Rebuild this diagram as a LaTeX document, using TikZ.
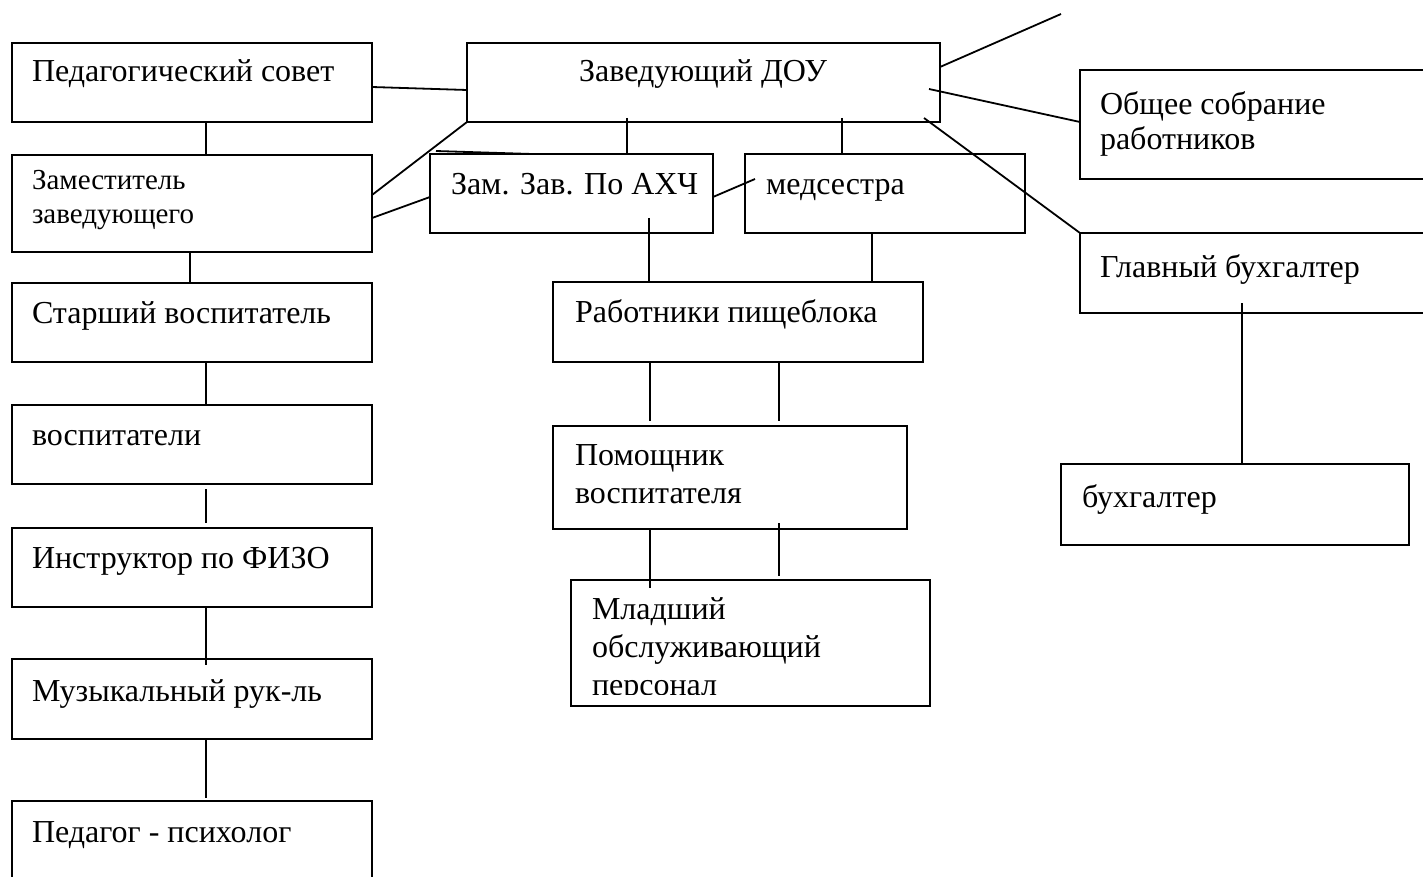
\documentclass[tikz,border=0pt]{standalone}
\usepackage{fontspec}
\setmainfont{Liberation Serif}
\begin{document}
\begin{tikzpicture}[x=1pt,y=-1pt,
  box/.style={draw, line width=2pt, anchor=north west, inner sep=0pt, outer sep=0pt},
  txt/.style={anchor=base west, inner sep=0pt, outer sep=0pt, align=left, font=\fontsize{32}{38}\selectfont},
  stxt/.style={txt, font=\fontsize{29}{34}\selectfont},
  otxt/.style={txt, font=\fontsize{32}{35}\selectfont},
  conn/.style={line width=1.8pt}]
\clip (0,0) rectangle (1423,877);
\fill[white] (0,0) rectangle (1423,877);
% left column
\node[box, minimum width=360pt, minimum height=79pt] (ped) at (12,43) {};
\node[box, minimum width=360pt, minimum height=97pt] (zam) at (12,155) {};
\node[box, minimum width=360pt, minimum height=79pt] (star) at (12,283) {};
\node[box, minimum width=360pt, minimum height=79pt] (vosp) at (12,405) {};
\node[box, minimum width=360pt, minimum height=79pt] (instr) at (12,528) {};
\node[box, minimum width=360pt, minimum height=80pt] (muz) at (12,659) {};
\node[box, minimum width=360pt, minimum height=100pt] (psy) at (12,801) {};
\node[txt] (pedt) at (32,82) {Педагогический совет};
\node[stxt] (zamt) at (32,224) {Заместитель\\заведующего};
\node[txt] (start) at (32,323) {Старший воспитатель};
\node[txt] (vospt) at (32,445) {воспитатели};
\node[txt] (instrt) at (32,568) {Инструктор по ФИЗО};
\node[txt] (muzt) at (32,701) {Музыкальный рук-ль};
\node[txt] (psyt) at (32,842) {Педагог - психолог};
% centre
\node[box, minimum width=473pt, minimum height=79pt] (zav) at (467,43) {};
\node[box, minimum width=283pt, minimum height=79pt] (ahch) at (430,154) {};
\node[box, minimum width=280pt, minimum height=79pt] (med) at (745,154) {};
\node[box, minimum width=370pt, minimum height=80pt] (rab) at (553,282) {};
\node[box, minimum width=354pt, minimum height=103pt] (pom) at (553,426) {};
\node[box, minimum width=359pt, minimum height=126pt] (mlad) at (571,580) {};
\node[txt, anchor=base] (zavt) at (703,82) {Заведующий ДОУ};
\node[txt] (ahcht) at (451,195) {Зам. Зав. По АХЧ};
\node[txt] (medt) at (766,195) {медсестра};
\node[txt] (rabt) at (575,322) {Работники пищеблока};
\node[txt] (pomt) at (575,503) {Помощник\\воспитателя};
\begin{scope}
\clip (571,580) rectangle (930,694);
\node[txt] (mladt) at (592,695) {Младший\\обслуживающий\\персонал};
\end{scope}
% right
\node[box, minimum width=360pt, minimum height=109pt] (obs) at (1080,70) {};
\node[box, minimum width=360pt, minimum height=80pt] (glav) at (1080,233) {};
\node[box, minimum width=348pt, minimum height=81pt] (buh) at (1061,464) {};
\node[otxt] (obst) at (1100,150) {Общее собрание\\работников};
\node[txt] (glavt) at (1100,277) {Главный бухгалтер};
\node[txt] (buht) at (1082,507) {бухгалтер};
\coordinate (tr) at (1061,14);
% connectors
\draw[conn] ([yshift=-4.5pt]ped.east) -- ([yshift=-7.5pt]zav.west);
\draw[conn] ([yshift=15.5pt]zav.east) -- (tr);
\draw[conn] ([xshift=-11pt,yshift=-6.5pt]zav.east) -- ([yshift=2.5pt]obs.west);
\draw[conn] ([xshift=-16pt,yshift=4pt]zav.south east) -- (glav.north west);
\draw[conn] ([yshift=4pt]zav.south -| 627,0) -- (ahch.north -| 627,0);
\draw[conn] ([yshift=4pt]zav.south -| 842,0) -- (med.north -| 842,0);
\draw[conn] (zav.south west) -- ([yshift=8.5pt]zam.east);
\draw[conn] ([yshift=-14.5pt]zam.east) -- ([yshift=-3.5pt]ahch.west);
\draw[conn] ([xshift=6pt,yshift=3pt]ahch.north west) -- ([xshift=102pt]ahch.north west);
\draw[conn] ([yshift=-3.5pt]ahch.east) -- ([xshift=10pt,yshift=14.5pt]med.west);
\draw[conn] ([yshift=15pt]ahch.south -| 649,0) -- (rab.north -| 649,0);
\draw[conn] (med.south -| 872,0) -- (rab.north -| 872,0);
\draw[conn] (rab.south -| 650,0) -- ([yshift=5pt]pom.north -| 650,0);
\draw[conn] (rab.south -| 779,0) -- ([yshift=5pt]pom.north -| 779,0);
\draw[conn] (pom.south -| 650,0) -- ([yshift=-8pt]mlad.north -| 650,0);
\draw[conn] ([yshift=6pt]pom.south -| 779,0) -- ([yshift=4pt]mlad.north -| 779,0);
\draw[conn] ([yshift=10pt]glav.south -| 1242,0) -- (buh.north -| 1242,0);
\draw[conn] (ped.south -| 206,0) -- (zam.north -| 206,0);
\draw[conn] (zam.south -| 190,0) -- (star.north -| 190,0);
\draw[conn] (star.south -| 206,0) -- (vosp.north -| 206,0);
\draw[conn] ([yshift=-5pt]vosp.south -| 206,0) -- ([yshift=5pt]instr.north -| 206,0);
\draw[conn] (instr.south -| 206,0) -- ([yshift=-6pt]muz.north -| 206,0);
\draw[conn] (muz.south -| 206,0) -- ([yshift=3pt]psy.north -| 206,0);
\end{tikzpicture}
\end{document}
